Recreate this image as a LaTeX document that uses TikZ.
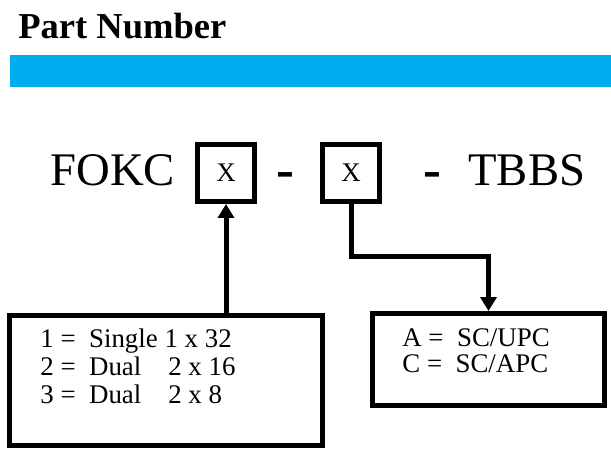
\documentclass[tikz,border=0pt]{standalone}
\usepackage{fontspec}
\setmainfont{Liberation Serif}
\usetikzlibrary{positioning,arrows.meta}
\definecolor{barblue}{HTML}{00AEEF}

\begin{document}
\begin{tikzpicture}[x=0.02cm, y=-0.02cm,
    partBox/.style={rectangle, draw=black, line width=0.1cm, minimum width=1.14cm, minimum height=1.14cm, inner sep=0pt, font=\fontsize{15.3}{18}\selectfont},
    codeText/.style={inner sep=0pt, font=\fontsize{26.6}{30}\selectfont},
    dashText/.style={inner sep=0pt, anchor=base, font=\fontsize{30.6}{32}\selectfont\bfseries},
    optBox/.style={rectangle, draw=black, line width=0.1cm, inner sep=0pt},
    optText/.style={inner sep=0pt, align=left, anchor=base west},
    link/.style={line width=0.1cm, -{Triangle[length=0.28cm, width=0.32cm]}}
]
    \useasboundingbox (0,0) rectangle (611,449);

    % heading and bar
    \node[anchor=base west, inner sep=0pt, font=\fontsize{20.8}{24}\selectfont\bfseries] (title) at (18,39) {Part Number};
    \fill[barblue] (10,55) rectangle (611,87);

    % part number code
    \node[codeText, anchor=base west] (fokc) at (50,185) {FOKC};
    \node[partBox] (xone) at (226,173) {X};
    \node[dashText] (dashone) at (285,188) {-};
    \node[partBox] (xtwo) at (351,173) {X};
    \node[dashText] (dashtwo) at (432.5,188) {-};
    \node[codeText, anchor=base west] (tbbs) at (468,185) {TBBS};

    % option boxes (text base = last line)
    \node[optBox, minimum width=6.26cm, minimum height=2.6cm] (sizes) at (166,380.5) {};
    \node[optText, font=\fontsize{15.3}{15.9}\selectfont] (sizelist) at (40,403) {1 =~ Single 1 x 32\\2 =~ Dual\quad 2 x 16\\3 =~ Dual\quad 2 x 8};

    \node[optBox, minimum width=4.64cm, minimum height=1.84cm] (ferrule) at (488.5,359.5) {};
    \node[optText, font=\fontsize{15.3}{14.7}\selectfont] (ferrulelist) at (402,372) {A =~ SC/UPC\\C =~ SC/APC};

    % connectors
    \draw[link] (sizes.north -| xone.south) -- (xone.south);
    \draw[link] (xtwo.south) -- ++(0,52.5) -| (ferrule.north);
\end{tikzpicture}
\end{document}
